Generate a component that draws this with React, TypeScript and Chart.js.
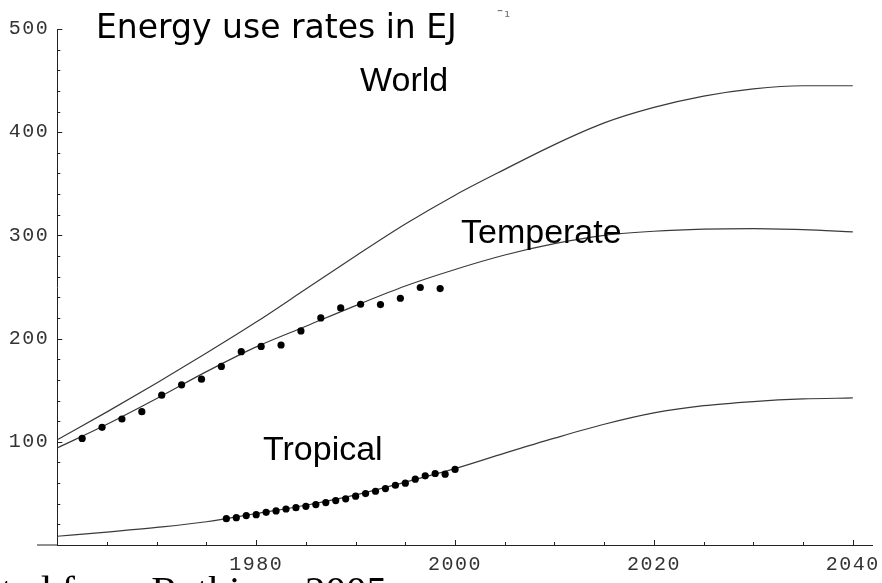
import React, { useEffect, useRef } from "react";
import { Chart, registerables } from "chart.js";

Chart.register(...registerables);

// Fitted curves, sampled every five years (EJ per year)
const curveYears = [1960, 1965, 1970, 1975, 1980, 1985, 1990, 1995, 2000, 2005, 2010, 2015, 2020, 2025, 2030, 2035, 2040];
const worldEnergy = [102, 129, 157, 186, 216, 248, 280, 311, 339, 364, 388, 409, 424, 435, 442, 445, 445];
const temperateEnergy = [94, 117, 142, 168, 192, 212, 232, 251, 267, 281, 292, 300, 304, 306, 306.5, 305.5, 303.5];
const tropicalEnergy = [8.5, 12.5, 17, 22.5, 30.5, 38.5, 48.5, 61, 74, 89, 103.5, 117, 128, 135, 139, 141.5, 142.5];

// Observed energy use
const temperateObsYears = [1962.5, 1964.5, 1966.5, 1968.5, 1970.5, 1972.5, 1974.5, 1976.5, 1978.5, 1980.5, 1982.5, 1984.5, 1986.5, 1988.5, 1990.5, 1992.5, 1994.5, 1996.5, 1998.5];
const temperateObs = [103.3, 114.0, 122.1, 129.2, 145.2, 155.2, 160.7, 173.0, 187.3, 192.4, 193.8, 207.4, 220.0, 229.7, 233.3, 233.0, 239.1, 249.5, 248.5];
const tropicalObsYears = [1977, 1978, 1979, 1980, 1981, 1982, 1983, 1984, 1985, 1986, 1987, 1988, 1989, 1990, 1991, 1992, 1993, 1994, 1995, 1996, 1997, 1998, 1999, 2000];
const tropicalObs = [25.5, 26.5, 28.5, 29.4, 31.7, 33.0, 34.9, 36.2, 37.5, 39.2, 41.1, 43.0, 44.7, 47.3, 49.8, 52.1, 54.7, 57.9, 59.9, 63.8, 67.0, 69.3, 68.6, 73.2];

// Axis labels
const xTickLabels = [1980, 2000, 2020, 2040];
const yTickLabels = [100, 200, 300, 400, 500];

const chartTitle = "Energy use rates in EJ";
const curveNames = ["World", "Temperate", "Tropical"];
const sourceNote = "Adapted from Rathjens 2005";

const toPoints = (xs: number[], ys: number[]) => xs.map((x, i) => ({ x, y: ys[i] }));

const axisDecor = {
  id: "axisDecor",
  beforeDraw(chart: any) {
    // tick labels are letter-spaced like a plotting package's mono font
    chart.ctx.letterSpacing = "1.5px";
  },
  beforeDatasetsDraw(chart: any) {
    const ctx = chart.ctx;
    ctx.letterSpacing = "0px";
    const xs = chart.scales.x;
    const ys = chart.scales.y;
    const { left, bottom } = chart.chartArea;
    ctx.save();
    ctx.strokeStyle = "#222";
    ctx.lineWidth = 1;
    // x axis runs a little past the origin, to the left
    ctx.beginPath();
    ctx.moveTo(37, bottom);
    ctx.lineTo(left, bottom);
    ctx.stroke();
    // inward tick marks
    xs.ticks.forEach((t: any) => {
      if (t.value % 5 !== 0 || t.value === xs.min) return;
      const px = Math.round(xs.getPixelForValue(t.value)) + 0.5;
      const len = t.value % 20 === 0 ? 5 : 3;
      ctx.beginPath();
      ctx.moveTo(px, bottom);
      ctx.lineTo(px, bottom - len);
      ctx.stroke();
    });
    ys.ticks.forEach((t: any) => {
      if (t.value === 0) return;
      const py = Math.round(ys.getPixelForValue(t.value)) + 0.5;
      const len = t.value % 100 === 0 ? 5 : 3;
      ctx.beginPath();
      ctx.moveTo(left, py);
      ctx.lineTo(left + len, py);
      ctx.stroke();
    });
    ctx.restore();
  },
  afterDraw(chart: any) {
    const ctx = chart.ctx;
    ctx.save();
    ctx.letterSpacing = "0px";
    ctx.fillStyle = "#000";
    ctx.textAlign = "left";
    ctx.textBaseline = "alphabetic";

    ctx.font = "33px 'DejaVu Sans'";
    ctx.fillText(chartTitle, 96, 38);

    ctx.fillStyle = "#777";
    ctx.font = "16px 'DejaVu Sans'";
    ctx.fillText("\u02C9\u00B9", 496, 22);

    ctx.fillStyle = "#000";
    ctx.font = "34px 'Liberation Sans'";
    ctx.fillText(curveNames[0], 360, 91);
    ctx.fillText(curveNames[1], 461, 243);
    ctx.fillText(curveNames[2], 263, 460);

    ctx.font = "41px 'Liberation Serif'";
    const lead = ctx.measureText("Adap").width;
    ctx.fillText(sourceNote, 1 - lead, 604);
    ctx.restore();
  },
};

export default function App() {
  const canvasRef = useRef<HTMLCanvasElement | null>(null);

  useEffect(() => {
    const canvas = canvasRef.current;
    if (!canvas) return;
    const monoFont = { family: "'Liberation Mono', monospace", size: 20 };
    const curveStyle = {
      borderColor: "#3a3a3a",
      borderWidth: 1.2,
      pointRadius: 0,
      fill: false,
      cubicInterpolationMode: "monotone" as const,
      order: 2,
    };
    const dotStyle = {
      showLine: false,
      pointRadius: 3.6,
      pointBackgroundColor: "#000",
      pointBorderWidth: 0,
      borderColor: "#000",
      order: 1,
    };
    const chart = new Chart(canvas, {
      type: "line",
      data: {
        datasets: [
          { label: "Temperate observed", data: toPoints(temperateObsYears, temperateObs), ...dotStyle },
          { label: "Tropical observed", data: toPoints(tropicalObsYears, tropicalObs), ...dotStyle },
          { label: curveNames[0], data: toPoints(curveYears, worldEnergy), ...curveStyle },
          { label: curveNames[1], data: toPoints(curveYears, temperateEnergy), ...curveStyle },
          { label: curveNames[2], data: toPoints(curveYears, tropicalEnergy), ...curveStyle },
        ],
      },
      options: {
        animation: false,
        responsive: false,
        devicePixelRatio: 1,
        events: [],
        layout: { autoPadding: false, padding: { left: 0, right: 9.3, top: 29, bottom: 0 } },
        plugins: {
          legend: { display: false },
          tooltip: { enabled: false },
          title: { display: false },
        },
        scales: {
          x: {
            type: "linear",
            position: "bottom",
            min: 1960,
            max: 2042,
            grid: { display: false, drawTicks: false },
            border: { display: true, color: "#222", width: 1 },
            ticks: {
              stepSize: 5,
              includeBounds: false,
              autoSkip: false,
              maxRotation: 0,
              padding: 8,
              color: "#333",
              font: monoFont,
              callback: (v: any) => (xTickLabels.includes(Number(v)) ? String(v) : ""),
            },
            afterFit: (s: any) => {
              s.height = 38;
              s.paddingLeft = 0;
              s.paddingRight = 0;
            },
          },
          y: {
            type: "linear",
            min: 0,
            max: 500,
            grid: { display: false, drawTicks: false },
            border: { display: true, color: "#222", width: 1 },
            ticks: {
              stepSize: 20,
              autoSkip: false,
              padding: 8,
              color: "#333",
              font: monoFont,
              callback: (v: any) => (yTickLabels.includes(Number(v)) ? String(v) : ""),
            },
            afterFit: (s: any) => {
              s.width = 57.3;
              s.paddingTop = 0;
              s.paddingBottom = 0;
            },
          },
        },
      },
      plugins: [axisDecor],
    });
    return () => chart.destroy();
  }, []);

  return (
    <div style={{ position: "absolute", left: 0, top: 0, width: 882, height: 583, background: "#fff" }}>
      <canvas ref={canvasRef} width={882} height={583} style={{ display: "block" }} />
    </div>
  );
}
